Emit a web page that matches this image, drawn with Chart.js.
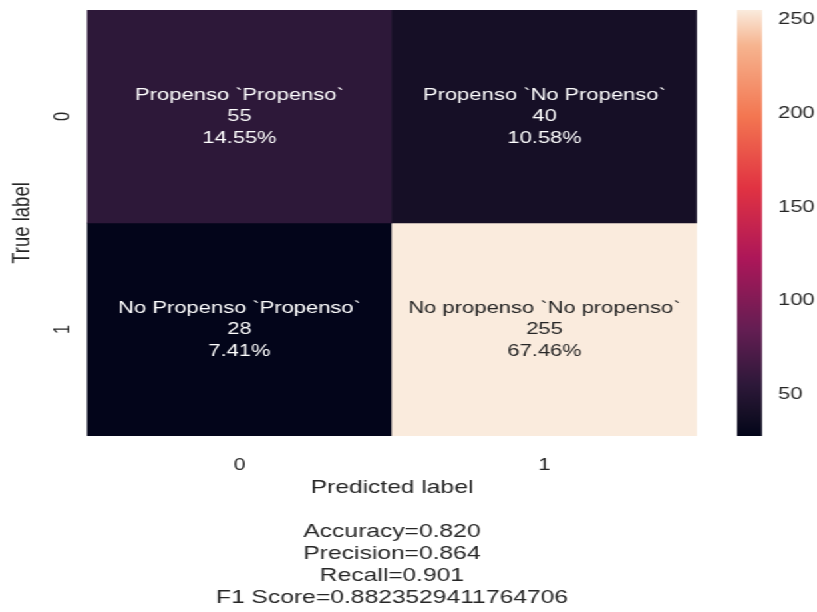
<!DOCTYPE html>
<html lang="en">

<head>
    <meta charset="UTF-8">
    <title>Matriz de confusión</title>
    <script src="https://cdn.jsdelivr.net/npm/chart.js"></script>
    <style>
        html, body { margin: 0; padding: 0; background: #fff; overflow: hidden; }
        /* la figura original está estirada a lo ancho, así que el dibujo también */
        #lienzo {
            position: absolute; left: 0; top: 0;
            width: 614px; height: 612px;
            transform: scaleX(1.3306); transform-origin: 0 0;
        }
        #cm { position: absolute; left: 0; top: 0; }
        #barra { position: absolute; left: 540px; top: 0; }
    </style>
</head>

<body>
    <div id="lienzo">
        <canvas id="cm" width="614" height="612" style="width:614px;height:612px"></canvas>
        <canvas id="barra" width="100" height="612" style="width:100px;height:612px"></canvas>
    </div>

<script>
    // datos
    const predLabels = ['0', '1'];
    const trueLabels = ['0', '1'];
    const counts = [
        [55, 40],
        [28, 255]
    ];
    const cellNames = [
        ['Propenso `Propenso`', 'Propenso `No Propenso`'],
        ['No Propenso `Propenso`', 'No propenso `No propenso`']
    ];
    const percents = [
        ['14.55%', '10.58%'],
        ['7.41%', '67.46%']
    ];
    const statsLines = ['Accuracy=0.820', 'Precision=0.864', 'Recall=0.901', 'F1 Score=0.8823529411764706'];
    const cbTicks = [50, 100, 150, 200, 250];

    const vmin = Math.min(...counts.flat());
    const vmax = Math.max(...counts.flat());

    // paleta "rocket"
    const rocket = [
        [0.00, '#03051a'],
        [0.05, '#150f25'],
        [0.12, '#2d1839'],
        [0.25, '#641e53'],
        [0.417, '#ad1759'],
        [0.583, '#e13342'],
        [0.75, '#f37651'],
        [0.917, '#f6b48f'],
        [1.00, '#faebdd']
    ];

    function hexRgb(h) {
        return [1, 3, 5].map(i => parseInt(h.substr(i, 2), 16));
    }

    function colorFor(v) {
        const t = (v - vmin) / (vmax - vmin);
        for (let i = 1; i < rocket.length; i++) {
            if (t <= rocket[i][0]) {
                const [t0, c0] = rocket[i - 1];
                const [t1, c1] = rocket[i];
                const f = (t - t0) / (t1 - t0);
                const a = hexRgb(c0), b = hexRgb(c1);
                const m = a.map((x, k) => Math.round(x + (b[k] - x) * f));
                return `rgb(${m[0]},${m[1]},${m[2]})`;
            }
        }
        return rocket[rocket.length - 1][1];
    }

    const txt = '#262626';
    const fam = "'Liberation Sans', Arial, sans-serif";
    Chart.defaults.font.family = fam;
    Chart.defaults.color = txt;

    const anotaciones = {
        id: 'anotaciones',
        afterDatasetsDraw(chart) {
            const ctx = chart.ctx;
            ctx.save();
            ctx.font = '16.5px ' + fam;
            ctx.textAlign = 'center';
            ctx.textBaseline = 'middle';
            chart.data.datasets.forEach((ds, r) => {
                chart.getDatasetMeta(r).data.forEach((bar, c) => {
                    const cy = (bar.y + bar.base) / 2;
                    const t = (counts[r][c] - vmin) / (vmax - vmin);
                    ctx.fillStyle = t > 0.5 ? txt : '#ffffff';
                    const lines = [cellNames[r][c], String(counts[r][c]), percents[r][c]];
                    lines.forEach((l, i) => ctx.fillText(l, bar.x, cy + (i - 1) * 21.5));
                });
            });
            // etiquetas del eje y, giradas como en seaborn
            const y = chart.scales.y;
            ctx.fillStyle = txt;
            trueLabels.forEach((lab, r) => {
                ctx.save();
                ctx.translate(47.3, y.getPixelForValue(r + 0.5));
                ctx.rotate(-Math.PI / 2);
                ctx.fillText(lab, 0, 0);
                ctx.restore();
            });
            ctx.restore();
        }
    };

    new Chart(document.getElementById('cm'), {
        type: 'bar',
        data: {
            labels: predLabels,
            datasets: trueLabels.map((t, r) => ({
                label: t,
                data: predLabels.map(() => 1),
                backgroundColor: counts[r].map(colorFor),
                borderWidth: 0,
                barPercentage: 1,
                categoryPercentage: 1
            }))
        },
        options: {
            responsive: false,
            animation: false,
            layout: { padding: { top: 10, right: 90.2, left: 0, bottom: 0 } },
            plugins: { legend: { display: false }, tooltip: { enabled: false } },
            scales: {
                x: {
                    stacked: true,
                    grid: { display: false, drawTicks: false },
                    border: { display: false },
                    ticks: { font: { size: 16.5 }, padding: 19.1, color: txt },
                    title: {
                        display: true,
                        text: ['Predicted label', ''].concat(statsLines),
                        font: { size: 18.5, lineHeight: '22px' },
                        color: txt,
                        padding: { top: 0, bottom: 3 }
                    },
                    afterFit: (s) => { s.height = 176; }
                },
                y: {
                    stacked: true,
                    reverse: true,
                    min: 0,
                    max: trueLabels.length,
                    grid: { display: false, drawTicks: false },
                    border: { display: false },
                    ticks: { display: false },
                    title: {
                        display: true,
                        text: 'True label',
                        font: { size: 18.5 },
                        color: txt,
                        padding: { top: 5.4, bottom: 0 }
                    },
                    afterFit: (s) => { s.width = 65.4; }
                }
            }
        },
        plugins: [anotaciones]
    });

    // barra de color
    new Chart(document.getElementById('barra'), {
        type: 'bar',
        data: {
            labels: [''],
            datasets: [{
                data: [[vmin, vmax]],
                backgroundColor: (c) => {
                    const ca = c.chart.chartArea;
                    if (!ca) return null;
                    const g = c.chart.ctx.createLinearGradient(0, ca.bottom, 0, ca.top);
                    rocket.forEach(([t, col]) => g.addColorStop(t, col));
                    return g;
                },
                borderWidth: 0,
                barPercentage: 1,
                categoryPercentage: 1
            }]
        },
        options: {
            responsive: false,
            animation: false,
            layout: { padding: { top: 10, bottom: 176, left: 13.9, right: 0 } },
            plugins: { legend: { display: false }, tooltip: { enabled: false } },
            scales: {
                x: { display: false },
                y: {
                    position: 'right',
                    min: vmin,
                    max: vmax,
                    grid: { display: false, drawTicks: false },
                    border: { display: false },
                    ticks: { font: { size: 16.5 }, padding: 12, color: txt },
                    afterBuildTicks: (s) => { s.ticks = cbTicks.map(v => ({ value: v })); },
                    afterFit: (s) => { s.width = 67.3; s.paddingTop = 0; s.paddingBottom = 0; }
                }
            }
        }
    });
</script>
</body>

</html>
